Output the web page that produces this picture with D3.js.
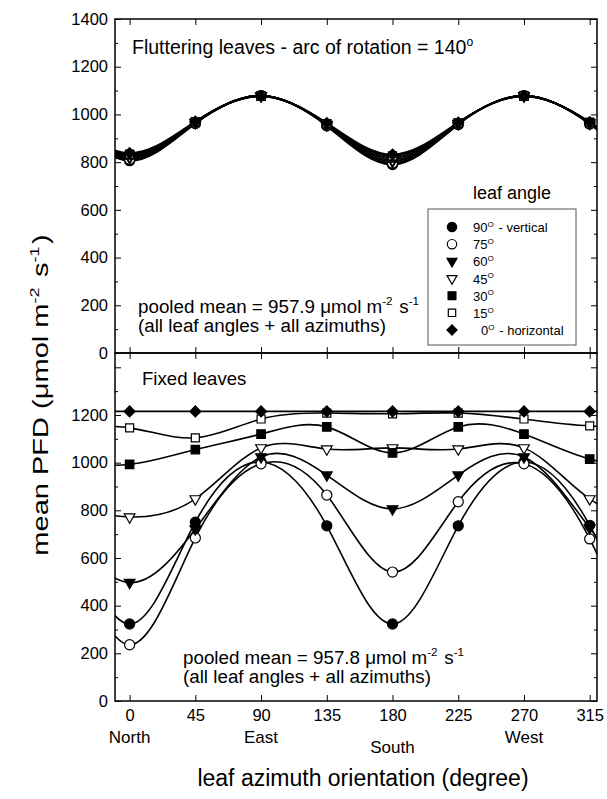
<!DOCTYPE html>
<html>
<head>
<meta charset="utf-8">
<script src="https://cdn.jsdelivr.net/npm/d3@7"></script>
<style>
  body { margin: 0; background: #fff; }
  text { font-family: "Liberation Sans", Arial, sans-serif; fill: #000; }
</style>
</head>
<body>
<div id="chart"></div>
<script>
// azimuths (x) and compass names
let azimuths = [0, 45, 90, 135, 180, 225, 270, 315]
let compassAz = [0, 90, 180, 270]
let compassNames = ['North', 'East', 'South', 'West']

// leaf angles (legend order)
let leafAngles = ['90', '75', '60', '45', '30', '15', '0']
let angleNotes = [' - vertical', '', '', '', '', '', ' - horizontal']

// fluttering leaves, arc of rotation 140 deg
let flut90 = [806, 962, 1079, 952, 790, 958, 1079, 960]
let flut75 = [812, 963, 1079, 954, 796, 959, 1079, 961]
let flut60 = [818, 965, 1078, 956, 803, 961, 1078, 963]
let flut45 = [824, 966, 1078, 958, 810, 962, 1078, 964]
let flut30 = [830, 968, 1077, 960, 818, 964, 1077, 966]
let flut15 = [834, 969, 1077, 962, 826, 965, 1077, 967]
let flut0 = [838, 970, 1076, 964, 832, 966, 1076, 968]

// fixed leaves
let fix90 = [323, 750, 1003, 735, 323, 735, 1003, 737]
let fix75 = [236, 684, 995, 864, 541, 836, 995, 680]
let fix60 = [497, 722, 1024, 948, 806, 948, 1024, 726]
let fix45 = [772, 848, 1062, 1057, 1062, 1057, 1062, 848]
let fix30 = [993, 1055, 1120, 1150, 1041, 1150, 1120, 1015]
let fix15 = [1146, 1104, 1183, 1208, 1205, 1208, 1183, 1154]
let fix0 = [1215, 1215, 1215, 1215, 1215, 1215, 1215, 1215]

let topTicks = [0, 200, 400, 600, 800, 1000, 1200, 1400]
let bottomTicks = [0, 200, 400, 600, 800, 1000, 1200, 1400]

let flutSeries = [flut90, flut75, flut60, flut45, flut30, flut15, flut0]
let fixSeries = [fix90, fix75, fix60, fix45, fix30, fix15, fix0]

// marker style per leaf angle
let markers = [
  { type: d3.symbolCircle, size: 80, fill: '#000', rot: 0 },
  { type: d3.symbolCircle, size: 80, fill: '#fff', rot: 0 },
  { type: d3.symbolTriangle, size: 50, fill: '#000', rot: 180 },
  { type: d3.symbolTriangle, size: 50, fill: '#fff', rot: 180 },
  { type: d3.symbolSquare, size: 72, fill: '#000', rot: 0 },
  { type: d3.symbolSquare, size: 64, fill: '#fff', rot: 0 },
  { type: d3.symbolSquare, size: 60, fill: '#000', rot: 45 }
]

let W = 607, H = 799
let left = 115, right = 597
let svg = d3.select('#chart').append('svg')
  .attr('width', W).attr('height', H)

let x = d3.scaleLinear().domain([-10, 320]).range([left, right])

//周期延拓: 用 0..315 的值在两端补点, 让曲线延伸到边框
let periodic = (vals) => {
  let pts = []
  for (let k = -2; k < azimuths.length + 2; k++) {
    let i = (k + azimuths.length) % azimuths.length
    pts.push([azimuths[i] + 360 * Math.floor(k / azimuths.length), vals[i]])
  }
  return pts
}

let drawPanel = (id, series, y, top, bottom, ticks, showLabels, lineW) => {
  let g = svg.append('g')
  g.append('clipPath').attr('id', id)
    .append('rect')
    .attr('x', left).attr('y', top)
    .attr('width', right - left).attr('height', bottom - top)

  let line = d3.line()
    .x(d => x(d[0]))
    .y(d => y(d[1]))
    .curve(d3.curveNatural)

  // curves
  g.append('g').attr('clip-path', `url(#${id})`)
    .selectAll('path')
    .data(series)
    .enter()
    .append('path')
    .attr('d', d => line(periodic(d)))
    .attr('fill', 'none')
    .attr('stroke', '#000')
    .attr('stroke-width', lineW)

  // markers
  series.forEach((vals, si) => {
    let m = markers[si]
    g.append('g')
      .selectAll('path')
      .data(vals.map((v, i) => [azimuths[i], v]))
      .enter()
      .append('path')
      .attr('d', d3.symbol().type(m.type).size(m.size))
      .attr('transform', d => `translate(${x(d[0])},${y(d[1])}) rotate(${m.rot})`)
      .attr('fill', m.fill)
      .attr('stroke', '#000')
      .attr('stroke-width', 1.2)
  })

  // axes, ticks inward
  let major = ticks
  let minor = d3.range(100, y.domain()[1], 200)
  g.append('g')
    .attr('transform', `translate(${left},0)`)
    .call(d3.axisLeft(y).tickValues(major).tickSize(-6).tickPadding(7)
      .tickFormat(d => (showLabels(d) ? d : '')))
  g.append('g')
    .attr('transform', `translate(${left},0)`)
    .call(d3.axisLeft(y).tickValues(minor).tickSize(-3).tickFormat(''))
  g.append('g')
    .attr('transform', `translate(${right},0)`)
    .call(d3.axisRight(y).tickValues(major).tickSize(-6).tickFormat(''))
  g.append('g')
    .attr('transform', `translate(${right},0)`)
    .call(d3.axisRight(y).tickValues(minor).tickSize(-3).tickFormat(''))
  g.append('g')
    .attr('transform', `translate(0,${bottom})`)
    .call(d3.axisBottom(x).tickValues(azimuths).tickSize(-6).tickPadding(8)
      .tickFormat(id === 'clipB' ? d => d : ''))
  g.append('g')
    .attr('transform', `translate(0,${top})`)
    .call(d3.axisTop(x).tickValues(azimuths).tickSize(-6).tickFormat(''))

  g.selectAll('.domain').remove()
  g.selectAll('.tick line').attr('stroke', '#000').attr('stroke-width', 1)
  g.selectAll('.tick text')
    .style('font-family', '"Liberation Sans", Arial, sans-serif')
    .style('font-size', '16.5px')
    .attr('fill', '#000')

  // frame
  g.append('rect')
    .attr('x', left).attr('y', top)
    .attr('width', right - left).attr('height', bottom - top)
    .attr('fill', 'none').attr('stroke', '#000').attr('stroke-width', 1.5)
  return g
}

// top panel: fluttering
let topT = 19, topB = 353
let yTop = d3.scaleLinear().domain([0, 1400]).range([topB, topT])
drawPanel('clipA', flutSeries, yTop, topT, topB, topTicks, d => true, 1.9)

// bottom panel: fixed
let botT = 353, botB = 701
let yBot = d3.scaleLinear().domain([0, 1460]).range([botB, botT])
drawPanel('clipB', fixSeries, yBot, botT, botB, bottomTicks, d => d <= 1200, 1.6)

// helper: text with superscripts, parts = [[str, sup?], ...]
let richText = (g, px, py, size, parts, anchor) => {
  let t = g.append('text')
    .attr('x', px).attr('y', py)
    .attr('font-size', size)
    .attr('text-anchor', anchor || 'start')
  parts.forEach(p => {
    if (p[1]) {
      t.append('tspan').attr('dy', -size * 0.4).attr('font-size', size * 0.62).text(p[0])
      t.append('tspan').attr('dy', size * 0.4).text('\u200a')
    } else {
      t.append('tspan').text(p[0])
    }
  })
  return t
}

richText(svg, 132, 54, 19.5, [['Fluttering leaves - arc of rotation = 140'], ['o', true]])
richText(svg, 138, 313, 18.8, [['pooled mean = 957.9 \u03bcmol m'], ['-2', true], [' s'], ['-1', true]])
svg.append('text').attr('x', 138).attr('y', 332).attr('font-size', 18.8)
  .text('(all leaf angles + all azimuths)')

svg.append('text').attr('x', 142).attr('y', 385).attr('font-size', 18.6).text('Fixed leaves')
richText(svg, 183, 664, 18.8, [['pooled mean = 957.8 \u03bcmol m'], ['-2', true], [' s'], ['-1', true]])
svg.append('text').attr('x', 183).attr('y', 683).attr('font-size', 18.8)
  .text('(all leaf angles + all azimuths)')

// legend
svg.append('text').attr('x', 473).attr('y', 199).attr('font-size', 18).text('leaf angle')
svg.append('rect')
  .attr('x', 428).attr('y', 209).attr('width', 148).attr('height', 136)
  .attr('fill', '#fff').attr('stroke', '#555').attr('stroke-width', 1)
let rowY = d3.scaleLinear().domain([0, 6]).range([227, 330])
leafAngles.forEach((a, i) => {
  let m = markers[i]
  svg.append('path')
    .attr('d', d3.symbol().type(m.type).size(m.size * 0.85))
    .attr('transform', `translate(452,${rowY(i)}) rotate(${m.rot})`)
    .attr('fill', m.fill).attr('stroke', '#000').attr('stroke-width', 1.2)
  let tx = a === '0' ? 481 : 473
  richText(svg, tx, rowY(i) + 5, 13, [[a], ['O', true], [angleNotes[i]]])
})

// compass names under ticks
let compassY = [743, 743, 753, 743]
compassNames.forEach((n, i) => {
  svg.append('text')
    .attr('x', x(compassAz[i])).attr('y', compassY[i])
    .attr('font-size', 17).attr('text-anchor', 'middle').text(n)
})

// axis titles
svg.append('text')
  .attr('x', 363).attr('y', 786).attr('font-size', 23)
  .attr('text-anchor', 'middle')
  .text('leaf azimuth orientation (degree)')
let yt = richText(svg, 0, 0, 22, [['mean PFD (\u03bcmol m'], ['-2', true], [' s'], ['-1', true], [')']], 'middle')
yt.attr('transform', 'translate(48,395) rotate(-90) scale(1.32,1)')
</script>
</body>
</html>
